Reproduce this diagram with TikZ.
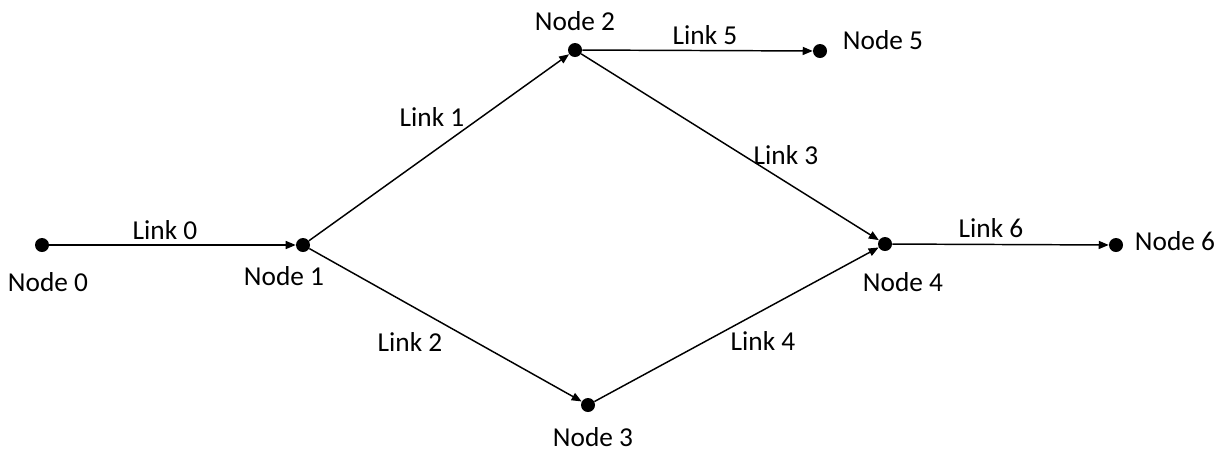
\documentclass[tikz,border=0pt]{standalone}
\usepackage{fontspec}
\setmainfont{Carlito}
\usetikzlibrary{arrows.meta}
\begin{document}
\begin{tikzpicture}[x=0.75pt,y=-0.75pt,
  dot/.style={circle,fill=black,inner sep=0pt,minimum size=10.5pt},
  lbl/.style={inner sep=0pt,font=\fontsize{20.5}{24}\selectfont},
  link/.style={line width=1.1pt,-{Triangle[length=7.5pt,width=6pt]}}]
\useasboundingbox (0,0) rectangle (1221,455);
\node[dot] (n0) at (42,245) {};
\node[dot] (n1) at (303,245) {};
\node[dot] (n2) at (575,50) {};
\node[dot] (n3) at (588,405) {};
\node[dot] (n4) at (885,244) {};
\node[dot] (n5) at (820,51) {};
\node[dot] (n6) at (1116,245) {};
\node[lbl] (t0) at (48,282) {Node 0};
\node[lbl] (t1) at (284,276) {Node 1};
\node[lbl] (t2) at (575,21) {Node 2};
\node[lbl] (t3) at (593,437) {Node 3};
\node[lbl] (t4) at (903,282) {Node 4};
\node[lbl] (t5) at (883,40) {Node 5};
\node[lbl] (t6) at (1175,241) {Node 6};
\draw[link] (n0) -- (n1);
\draw[link] (n1) -- (n2);
\draw[link] (n1) -- (n3);
\draw[link] (n2) -- (n4);
\draw[link] (n3) -- (n4);
\draw[link] (n2) -- (n5);
\draw[link] (n4) -- (n6);
\node[lbl] (l0) at (165,230) {Link 0};
\node[lbl] (l1) at (432,117) {Link 1};
\node[lbl] (l2) at (410,342) {Link 2};
\node[lbl] (l3) at (786,155) {Link 3};
\node[lbl] (l4) at (763,341) {Link 4};
\node[lbl] (l5) at (705,35) {Link 5};
\node[lbl] (l6) at (991,228) {Link 6};
\end{tikzpicture}
\end{document}
